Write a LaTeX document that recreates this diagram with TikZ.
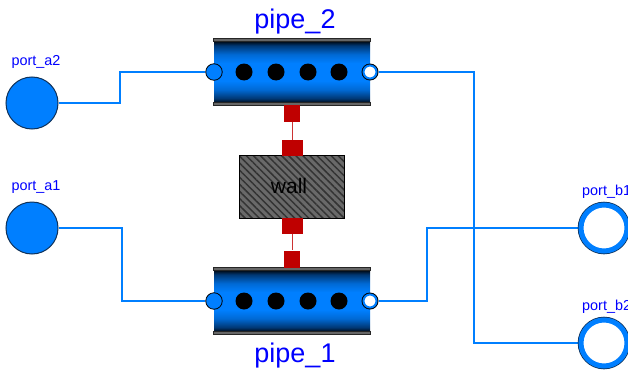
\documentclass[tikz,border=0pt]{standalone}
\usepackage{fontspec}
\setmainfont{Liberation Sans}
\usetikzlibrary{patterns.meta}
\definecolor{flowblue}{RGB}{0,127,255}
\definecolor{heatred}{RGB}{191,0,0}
\definecolor{wallgray}{RGB}{105,105,105}
\definecolor{portedge}{RGB}{15,50,90}
\definecolor{pipedark}{RGB}{0,55,115}
\definecolor{pipemid}{RGB}{0,105,212}
\pgfdeclareverticalshading{pipeshade}{100bp}{color(0bp)=(black); color(25bp)=(black); color(29bp)=(pipedark); color(36bp)=(pipemid); color(43bp)=(flowblue); color(57bp)=(flowblue); color(64bp)=(pipemid); color(71bp)=(pipedark); color(75bp)=(black); color(100bp)=(black)}
\tikzset{
  pipebody/.style={rectangle, inner sep=0pt, minimum width=156pt, minimum height=63pt, shading=pipeshade},
  pipebar/.style={rectangle, inner sep=0pt, minimum width=157pt, minimum height=3.5pt, fill=black!60, draw=black!85, line width=0.6pt},
  holedot/.style={circle, inner sep=0pt, minimum size=17pt, fill=black},
  portin/.style={circle, inner sep=0pt, minimum size=16.5pt, fill=flowblue, draw=black, line width=0.8pt},
  portring/.style={circle, inner sep=0pt, minimum size=17pt, fill=black},
  portout/.style={circle, inner sep=0pt, minimum size=13pt, fill=white, draw=flowblue, line width=2pt},
  bigin/.style={circle, inner sep=0pt, minimum size=52pt, fill=flowblue, draw=portedge, line width=1pt},
  bigdisc/.style={circle, inner sep=0pt, minimum size=52.6pt, fill=portedge},
  bigout/.style={circle, inner sep=0pt, minimum size=46pt, fill=white, draw=flowblue, line width=5pt},
  heatbig/.style={rectangle, inner sep=0pt, minimum width=21pt, minimum height=16.5pt, fill=heatred},
  heatsmall/.style={rectangle, inner sep=0pt, minimum width=16pt, minimum height=17pt, fill=heatred},
  portlabel/.style={inner sep=0pt, blue, font=\fontsize{14.4}{15}\selectfont},
  pipelabel/.style={inner sep=0pt, blue, font=\fontsize{27}{28}\selectfont},
  flow/.style={flowblue, line width=1.8pt},
  heatline/.style={heatred!80, line width=1pt},
}
\begin{document}
\begin{tikzpicture}[x=1pt,y=-1pt]
  \useasboundingbox (0,0) rectangle (628,369);

  % Boundary ports
  \node[bigin] (port_a2) at (32,103) {};
  \node[bigin] (port_a1) at (32,228) {};
  \node[portlabel] (label_a2) at (36,62) {port\_a2};
  \node[portlabel] (label_a1) at (36,187) {port\_a1};
  \node[portlabel, anchor=west] (label_b1) at (582,192) {port\_b1};
  \node[portlabel, anchor=west] (label_b2) at (582,307) {port\_b2};

  % Pipes
  \node[pipebody] (pipe_2) at (292,72) {};
  \node[pipebody] (pipe_1) at (292,301) {};
  \node[pipebar] (bar_2t) at (292,40) {};
  \node[pipebar] (bar_2b) at (292,104) {};
  \node[pipebar] (bar_1t) at (292,269) {};
  \node[pipebar] (bar_1b) at (292,333) {};
  \foreach \xdot in {244,276,308,339} {
    \node[holedot] (dot_2_\xdot) at (\xdot,72) {};
    \node[holedot] (dot_1_\xdot) at (\xdot,301) {};
  }
  \node[pipelabel] (label_2) at (295,22) {pipe\_2};
  \node[pipelabel] (label_1) at (295,356) {pipe\_1};

  % Pipe ends
  \node[portin] (pipe_2_a) at (214,72) {};
  \node[portin] (pipe_1_a) at (214,301) {};
  \node[portring] (ring_2) at (370,72) {};
  \node[portring] (ring_1) at (370,301) {};
  \node[portout] (pipe_2_b) at (370,72) {};
  \node[portout] (pipe_1_b) at (370,301) {};

  % Wall
  \node[rectangle, inner sep=0pt, minimum width=104pt, minimum height=62pt, fill=wallgray] (wall) at (292,187) {};
  \fill[pattern={Lines[angle=-45,distance=5pt,line width=1.5pt]}, pattern color=black!80] (wall.north west) rectangle (wall.south east);
  \draw[black, line width=0.8pt] (wall.north west) rectangle (wall.south east);
  \node[inner sep=0pt, font=\fontsize{21}{22}\selectfont, text=black] (wall_text) at (289,186) {wall};

  % Heat ports
  \node[heatsmall] (heat_2) at (292,113.5) {};
  \node[heatbig] (wall_top) at (292,148) {};
  \node[heatbig] (wall_bot) at (292,226) {};
  \node[heatsmall] (heat_1) at (292,259) {};
  \draw[heatline] (heat_2) -- (wall_top);
  \draw[heatline] (wall_bot) -- (heat_1);

  % Connections
  \draw[flow] (port_a2.east) -| (120,72) -- (pipe_2_a.west);
  \draw[flow] (port_a1.east) -| (122,301) -- (pipe_1_a.west);
  \draw[flow] (ring_2.east) -| (474,343) -- (578,343) coordinate (end_b2);
  \draw[flow] (ring_1.east) -| (427,228) -- (578,228) coordinate (end_b1);

  % Right ports
  \node[bigdisc] (disc_b1) at (604,228) {};
  \node[bigdisc] (disc_b2) at (604,343) {};
  \node[bigout] (port_b1) at (604,228) {};
  \node[bigout] (port_b2) at (604,343) {};
\end{tikzpicture}
\end{document}
